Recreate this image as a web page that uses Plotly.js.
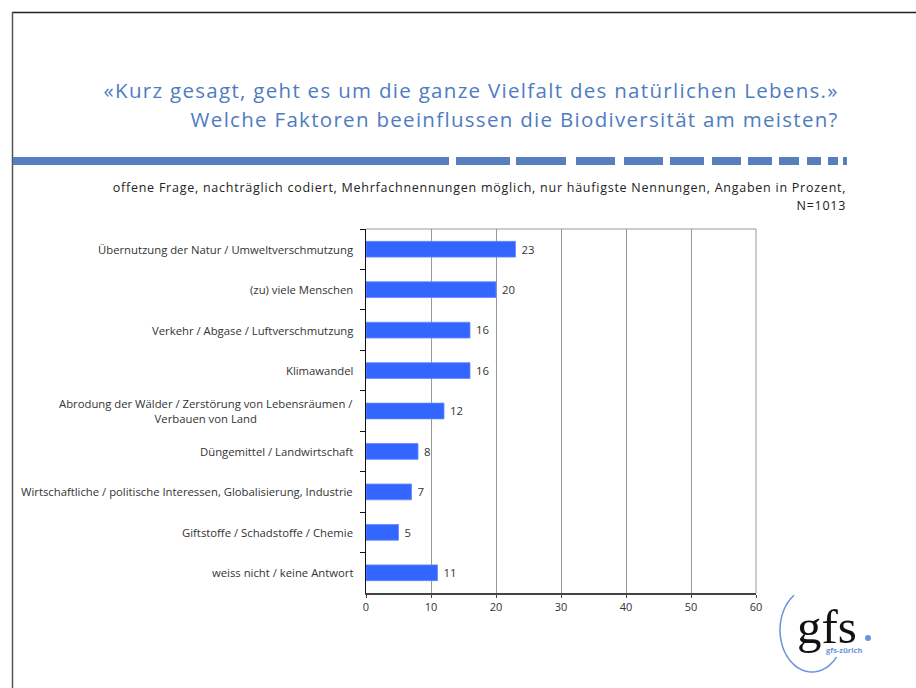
<!DOCTYPE html>
<html>
<head>
<meta charset="utf-8">
<script src="https://cdn.plot.ly/plotly-3.0.1.min.js"></script>
<style>
html,body{margin:0;padding:0;background:#fff;}
#chart{width:916px;height:688px;}
.js-plotly-plot g.annotation[data-index="2"] text,
.js-plotly-plot g.annotation[data-index="3"] text{letter-spacing:1.3px;}
.js-plotly-plot g.annotation[data-index="4"] text,
.js-plotly-plot g.annotation[data-index="5"] text{letter-spacing:0.75px;}
</style>
</head>
<body>
<div id="chart"></div>
<script>
// ---- data ----
const categories = [
  "Übernutzung der Natur / Umweltverschmutzung",
  "(zu) viele Menschen",
  "Verkehr / Abgase / Luftverschmutzung",
  "Klimawandel",
  "Abrodung der Wälder / Zerstörung von Lebensräumen /<br>Verbauen von Land",
  "Düngemittel / Landwirtschaft",
  "Wirtschaftliche / politische Interessen, Globalisierung, Industrie",
  "Giftstoffe / Schadstoffe / Chemie",
  "weiss nicht / keine Antwort"
];
const values = [23, 20, 16, 16, 12, 8, 7, 5, 11];
const xTicks = [0, 10, 20, 30, 40, 50, 60];
const titleLine1 = "«Kurz gesagt, geht es um die ganze Vielfalt des natürlichen Lebens.»";
const titleLine2 = "Welche Faktoren beeinflussen die Biodiversität am meisten?";
const noteLine1 = "offene Frage, nachträglich codiert, Mehrfachnennungen möglich, nur häufigste Nennungen, Angaben in Prozent,";
const noteLine2 = "N=1013";

// ---- layout geometry (pixels) ----
const W = 916, H = 688;
const PL = 366, PR = 756, PT = 229, PB = 593;
const px = v => (v - PL) / (PR - PL);
const py = v => (PB - v) / (PB - PT);
const FONT = "'Open Sans', 'Noto Sans', sans-serif";

const shapes = [];
const annotations = [];

// frame
shapes.push({type:'line', xref:'paper', yref:'paper', x0:px(12), x1:px(916), y0:py(12.5), y1:py(12.5), line:{color:'#222', width:1.5}});
shapes.push({type:'line', xref:'paper', yref:'paper', x0:px(12.5), x1:px(12.5), y0:py(12), y1:py(688), line:{color:'#555', width:1.5}});
// plot top and right borders
shapes.push({type:'line', xref:'paper', yref:'paper', x0:0, x1:1, y0:1, y1:1, line:{color:'#999', width:1}});
shapes.push({type:'line', xref:'paper', yref:'paper', x0:1, x1:1, y0:0, y1:1, line:{color:'#999', width:1}});

// dashed rule
const dashes = [[13,449],[456,510],[516,566],[576,615],[624,663],[670,704],[712,741],[748,772],[779,799],[807,821],[828,838],[843,847]];
dashes.forEach(d => shapes.push({type:'rect', xref:'paper', yref:'paper', x0:px(d[0]), x1:px(d[1]), y0:py(165), y1:py(157), fillcolor:'#5580bd', line:{width:0}}));

// logo arc (ellipse segment, around the left side)
(function(){
  const cx = 812, cy = 630, rx = 32, ry = 42;
  let p = '';
  for (let a = 40; a <= 238; a += 4) {
    const r = a * Math.PI / 180;
    const X = px(cx + rx * Math.cos(r)), Y = py(cy + ry * Math.sin(r));
    p += (p ? ' L ' : 'M ') + X.toFixed(5) + ' ' + Y.toFixed(5);
  }
  shapes.push({type:'path', xref:'paper', yref:'paper', path:p, line:{color:'#6a93dc', width:1.5}});
  shapes.push({type:'circle', xref:'paper', yref:'paper', x0:px(865), x1:px(871), y0:py(641), y1:py(635), fillcolor:'#6a93dc', line:{width:0}});
})();
// 0,1: logo texts
annotations.push({xref:'paper', yref:'paper', x:px(795), y:py(626), xanchor:'left', yanchor:'middle', text:'gfs', showarrow:false, font:{family:"'Liberation Serif', 'DejaVu Serif', serif", size:49, color:'#111'}});
annotations.push({xref:'paper', yref:'paper', x:px(844), y:py(650), xanchor:'center', yanchor:'middle', text:'<b>gfs-zürich</b>', showarrow:false, font:{family:FONT, size:7.5, color:'#6a93dc'}});

// 2,3: titles ; 4,5: note
annotations.push({xref:'paper', yref:'paper', x:px(841), y:py(90), xanchor:'right', yanchor:'middle', align:'right', text:titleLine1, showarrow:false, font:{family:FONT, size:20.5, color:'#4f7cbf'}});
annotations.push({xref:'paper', yref:'paper', x:px(841), y:py(119), xanchor:'right', yanchor:'middle', align:'right', text:titleLine2, showarrow:false, font:{family:FONT, size:20.5, color:'#4f7cbf'}});
annotations.push({xref:'paper', yref:'paper', x:px(848), y:py(187), xanchor:'right', yanchor:'middle', align:'right', text:noteLine1, showarrow:false, font:{family:FONT, size:12.5, color:'#222'}});
annotations.push({xref:'paper', yref:'paper', x:px(848), y:py(205), xanchor:'right', yanchor:'middle', align:'right', text:noteLine2, showarrow:false, font:{family:FONT, size:12.5, color:'#222'}});

// category labels
categories.forEach(c => annotations.push({xref:'paper', yref:'y', x:px(355), y:c, xanchor:'right', yanchor:'middle', align: c.indexOf('<br>') >= 0 ? 'center' : 'right', text:c, showarrow:false, font:{family:FONT, size:11.3, color:'#333'}}));

const trace = {
  type:'bar', orientation:'h',
  x: values, y: categories,
  marker:{color:'#3366ff', line:{color:'#6688ff', width:0.8}},
  text: values.map(v => '\u00a0' + v), textposition:'outside', cliponaxis:false,
  textfont:{family:FONT, size:13, color:'#333'},
  hoverinfo:'none'
};

const layout = {
  width: W, height: H,
  margin:{l:PL, r:W-PR, t:PT, b:H-PB, pad:0},
  paper_bgcolor:'#fff', plot_bgcolor:'#fff',
  showlegend:false,
  bargap:0.61,
  xaxis:{range:[0,60], tickvals:xTicks, ticktext:xTicks.map(String), showgrid:true, gridcolor:'#999', gridwidth:1,
    zeroline:false, showline:true, linecolor:'#444', linewidth:1.5, ticks:'outside', ticklen:3, tickcolor:'#444',
    tickfont:{family:FONT, size:11, color:'#333'}, fixedrange:true},
  yaxis:{type:'category', autorange:'reversed', showticklabels:false, showgrid:false, zeroline:false,
    showline:true, linecolor:'#111', linewidth:1.5, ticks:'outside', ticklen:5, tickcolor:'#111', tickson:'boundaries', fixedrange:true},
  shapes: shapes,
  annotations: annotations,
  font:{family:FONT}
};

Plotly.newPlot('chart', [trace], layout, {displayModeBar:false, staticPlot:true});
</script>
</body>
</html>
